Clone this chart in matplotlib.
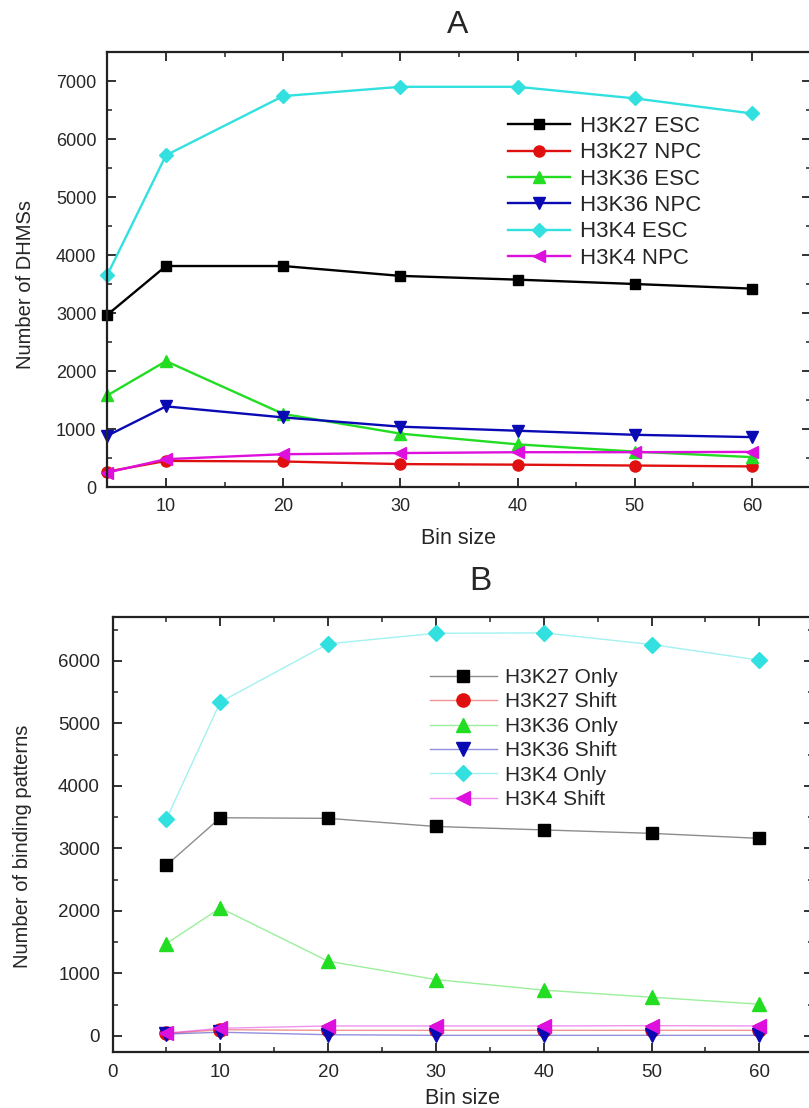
import matplotlib
matplotlib.use("Agg")
import matplotlib.pyplot as plt
from matplotlib.ticker import MultipleLocator

plt.rcParams['font.family'] = ['Liberation Sans', 'DejaVu Sans']

# ---------------- data ----------------
bin_sizes = [5, 10, 20, 30, 40, 50, 60]

# Panel A: Number of DHMSs
a_labels = ["H3K27 ESC", "H3K27 NPC", "H3K36 ESC", "H3K36 NPC", "H3K4 ESC", "H3K4 NPC"]
h3k27_esc = [2970, 3810, 3810, 3640, 3575, 3500, 3420]
h3k27_npc = [265, 450, 440, 395, 385, 370, 355]
h3k36_esc = [1580, 2170, 1260, 920, 735, 610, 515]
h3k36_npc = [885, 1390, 1200, 1040, 970, 900, 860]
h3k4_esc = [3660, 5720, 6740, 6900, 6900, 6700, 6440]
h3k4_npc = [250, 480, 565, 585, 600, 600, 605]

# Panel B: Number of binding patterns
b_labels = ["H3K27 Only", "H3K27 Shift", "H3K36 Only", "H3K36 Shift", "H3K4 Only", "H3K4 Shift"]
h3k27_only = [2730, 3490, 3480, 3350, 3295, 3240, 3160]
h3k27_shift = [40, 100, 90, 90, 90, 90, 90]
h3k36_only = [1477, 2047, 1196, 902, 733, 620, 508]
h3k36_shift = [30, 60, 20, 10, 10, 10, 10]
h3k4_only = [3468, 5340, 6271, 6440, 6446, 6260, 6011]
h3k4_shift = [45, 123, 160, 160, 160, 165, 160]

colors = ["#000000", "#e01010", "#22dd22", "#0a0ab4", "#33e0e0", "#dd10dd"]
markers = ["s", "o", "^", "v", "D", "<"]
a_ms = [7.5, 8, 9, 9, 7.5, 9]
b_ms = [8.5, 9.5, 10, 10, 8.5, 10]

W, H = 809, 1108
fig = plt.figure(figsize=(W / 100, H / 100), dpi=100)
txt_col = "#262626"


def style_axes(ax, tick_fs, pad):
    for s in ax.spines.values():
        s.set_linewidth(1.6)
        s.set_color("#222222")
    ax.tick_params(which="both", direction="in", top=True, right=True,
                   colors="#222222", labelcolor=txt_col)
    ax.tick_params(which="major", length=6.5, width=1.3, labelsize=tick_fs, pad=pad)
    ax.tick_params(which="minor", length=3.5, width=1.1)


# ---------------- Panel A ----------------
axA = fig.add_axes([107.4 / W, 1 - 487 / H, 703.2 / W, 435 / H])
seriesA = [h3k27_esc, h3k27_npc, h3k36_esc, h3k36_npc, h3k4_esc, h3k4_npc]
for ys, lab, c, m, ms in zip(seriesA, a_labels, colors, markers, a_ms):
    axA.plot(bin_sizes, ys, color=c, marker=m, markersize=ms, linewidth=1.7,
             markeredgecolor=c, label=lab, clip_on=False)
axA.set_xlim(5, 65)
axA.set_ylim(0, 7500)
axA.xaxis.set_minor_locator(MultipleLocator(5))
axA.yaxis.set_major_locator(MultipleLocator(1000))
axA.yaxis.set_minor_locator(MultipleLocator(500))
axA.set_xticks([10, 20, 30, 40, 50, 60])
style_axes(axA, 13, 8)
axA.set_ylabel("Number of DHMSs", fontsize=14.5, color=txt_col)
axA.yaxis.set_label_coords(-0.103, 0.465)
axA.set_xlabel("Bin size", fontsize=15.5, color=txt_col)
axA.xaxis.set_label_coords(0.4986, -0.094)
axA.legend(loc="upper left", bbox_to_anchor=(508 / W, 1 - 116 / H),
           bbox_transform=fig.transFigure, frameon=False, fontsize=16,
           handlelength=2.8, handletextpad=0.45, labelspacing=0.24,
           borderpad=0, borderaxespad=0, numpoints=1)
for t in axA.get_legend().get_texts():
    t.set_color(txt_col)
fig.text(458 / W, 1 - 25 / H, "A", fontsize=23, ha="center", va="center", color=txt_col)

# ---------------- Panel B ----------------
axB = fig.add_axes([112.5 / W, 1 - 1051.6 / H, 700.7 / W, 434.6 / H])
seriesB = [h3k27_only, h3k27_shift, h3k36_only, h3k36_shift, h3k4_only, h3k4_shift]
for ys, lab, c, m, ms in zip(seriesB, b_labels, colors, markers, b_ms):
    line, = axB.plot(bin_sizes, ys, color=c, linewidth=1.0, label=lab,
                     marker=m, markersize=ms, markeredgecolor=c, clip_on=False)
    line.set_color(matplotlib.colors.to_rgba(c, 0.45))
    line.set_markerfacecolor(c)
    line.set_markeredgecolor(c)
axB.set_xlim(0, 65)
axB.set_ylim(-250, 6700)
axB.xaxis.set_minor_locator(MultipleLocator(5))
axB.yaxis.set_minor_locator(MultipleLocator(500))
axB.set_xticks([0, 10, 20, 30, 40, 50, 60])
axB.set_yticks([0, 1000, 2000, 3000, 4000, 5000, 6000])
style_axes(axB, 13.5, 9)
axB.set_ylabel("Number of binding patterns", fontsize=14.5, color=txt_col)
axB.yaxis.set_label_coords(-0.115, 0.472)
axB.set_xlabel("Bin size", fontsize=15.5, color=txt_col)
axB.xaxis.set_label_coords(0.500, -0.083)
axB.legend(loc="upper left", bbox_to_anchor=(430 / W, 1 - 668 / H),
           bbox_transform=fig.transFigure, frameon=False, fontsize=15,
           handlelength=3.2, handletextpad=0.4, labelspacing=0.26,
           borderpad=0, borderaxespad=0, numpoints=1)
for t in axB.get_legend().get_texts():
    t.set_color(txt_col)
fig.text(480 / W, 1 - 582 / H, "B", fontsize=24, ha="center", va="center", color=txt_col)

fig.savefig("out.png", dpi=100, facecolor="white")
